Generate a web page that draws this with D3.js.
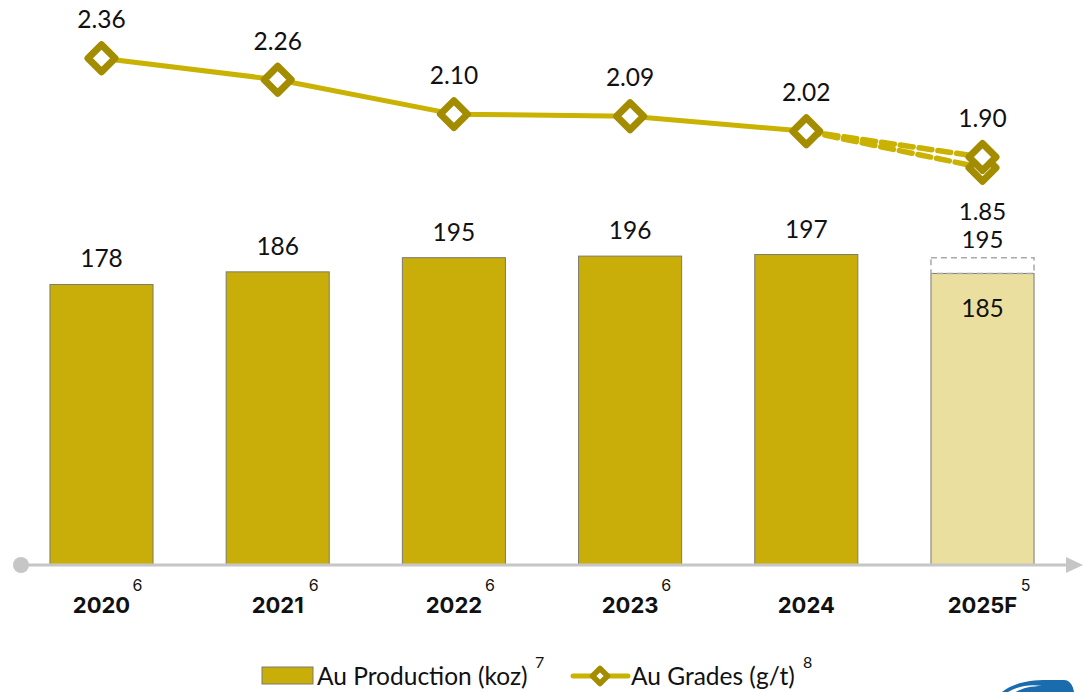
<!DOCTYPE html>
<html>
<head>
<meta charset="utf-8">
<script src="https://cdn.jsdelivr.net/npm/d3@7"></script>
<style>
  html, body { margin: 0; padding: 0; background: #ffffff; }
  svg { display: block; }
</style>
</head>
<body>
<svg id="chart" width="1089" height="692"></svg>
<script>
// Years on the category axis and their footnote markers
const years = ["2020", "2021", "2022", "2023", "2024", "2025F"];
const footnotes = ["6", "6", "6", "6", "", "5"];

// Gold production (koz); the last year is a forecast range
const production = [178, 186, 195, 196, 197, 185];
const forecastHigh = 195;

// Gold head grades (g/t); the forecast year has a high and a low case
const grades = [2.36, 2.26, 2.10, 2.09, 2.02, 1.90];
const forecastGradeLow = 1.85;

const GOLD = "#c9ae0a";
const GOLD_LIGHT = "#ebdfa0";
const LINE = "#c9b201";
const MARKER = "#a48c00";
const AXIS = "#c6c6c6";
const NUM_FONT = "Lato, 'Open Sans', sans-serif";
const NUM_SIZE = 24.5;
const CAT_FONT = "Inter, 'Open Sans', sans-serif";

const svg = d3.select("#chart");

const baseY = 565;
const x = d3.scaleBand().domain(years).range([13.4, 1070.6]).padding(0);
const barW = x.bandwidth() * 0.585;
const cx = d => x(d) + x.bandwidth() / 2;

const yBar = d3.scaleLinear().domain([0, 358.5]).range([baseY, 0]);
const yGrade = d3.scaleLinear().domain([0, 2.6316]).range([baseY, 0]);

// Bars
const barData = years.map((yr, i) => ({ yr, v: production[i], forecast: i === years.length - 1 }));
svg.append("g").selectAll("rect").data(barData).join("rect")
  .attr("x", d => cx(d.yr) - barW / 2)
  .attr("y", d => yBar(d.v))
  .attr("width", barW)
  .attr("height", d => baseY - yBar(d.v))
  .attr("fill", d => d.forecast ? GOLD_LIGHT : GOLD)
  .attr("stroke", "#7a7a72")
  .attr("stroke-width", 1);

// Dashed upper bound of the forecast range
const lastYr = years[years.length - 1];
svg.append("rect")
  .attr("x", cx(lastYr) - barW / 2)
  .attr("y", yBar(forecastHigh))
  .attr("width", barW)
  .attr("height", yBar(production[production.length - 1]) - yBar(forecastHigh))
  .attr("fill", "none")
  .attr("stroke", "#a9a9a9")
  .attr("stroke-width", 1.5)
  .attr("stroke-dasharray", "6,4");

const numText = (g, px, py, txt, size) => g.append("text")
  .attr("x", px).attr("y", py)
  .attr("text-anchor", "middle")
  .attr("font-family", NUM_FONT)
  .attr("font-size", size || NUM_SIZE)
  .attr("fill", "#111")
  .text(txt);

// Bar value labels
svg.append("g").selectAll("text").data(barData.filter(d => !d.forecast)).join("text")
  .attr("x", d => cx(d.yr))
  .attr("y", d => yBar(d.v) - 17)
  .attr("text-anchor", "middle")
  .attr("font-family", NUM_FONT)
  .attr("font-size", NUM_SIZE)
  .attr("fill", "#111")
  .text(d => d.v);

numText(svg, cx(lastYr), yBar(forecastHigh) - 10, forecastHigh, 24);
numText(svg, cx(lastYr), yBar(production[production.length - 1]) + 44, production[production.length - 1]);

// Category axis with round start cap and arrow head
const axis = svg.append("g");
axis.append("line")
  .attr("x1", 20).attr("x2", 1070).attr("y1", baseY).attr("y2", baseY)
  .attr("stroke", AXIS).attr("stroke-width", 3);
axis.append("circle").attr("cx", 21).attr("cy", baseY).attr("r", 8).attr("fill", AXIS);
axis.append("path")
  .attr("d", `M1066,${baseY - 8} L1083,${baseY} L1066,${baseY + 8} Z`)
  .attr("fill", AXIS);

// Category labels with footnote superscripts
const cat = svg.append("g").selectAll("g").data(years).join("g");
cat.append("text")
  .attr("x", d => cx(d))
  .attr("y", 613)
  .attr("text-anchor", "middle")
  .attr("font-family", CAT_FONT)
  .attr("font-weight", 700)
  .attr("font-size", 22)
  .attr("fill", "#111")
  .text(d => d);
cat.append("text")
  .attr("x", (d, i) => cx(d) + (d.length > 4 ? 43 : 36))
  .attr("y", 591)
  .attr("text-anchor", "middle")
  .attr("font-family", CAT_FONT)
  .attr("font-size", 16)
  .attr("fill", "#111")
  .text((d, i) => footnotes[i]);

// Grade line: solid for actuals, dashed to both forecast cases
const pts = years.map((yr, i) => [cx(yr), yGrade(grades[i])]);
const line = d3.line();
svg.append("path")
  .attr("d", line(pts.slice(0, 5)))
  .attr("fill", "none").attr("stroke", LINE).attr("stroke-width", 5)
  .attr("stroke-linejoin", "round");
const forecastEnds = [grades[5], forecastGradeLow];
forecastEnds.forEach(v => {
  svg.append("path")
    .attr("d", line([pts[4], [cx(lastYr), yGrade(v)]]))
    .attr("fill", "none").attr("stroke", LINE).attr("stroke-width", 5.5)
    .attr("stroke-dasharray", "13,6").attr("stroke-linecap", "round");
});

// Diamond markers
const diamond = (px, py, r) => `M${px},${py - r} L${px + r},${py} L${px},${py + r} L${px - r},${py} Z`;
const markerPts = pts.slice(0, 5).concat([[cx(lastYr), yGrade(forecastGradeLow)], pts[5]]);
svg.append("g").selectAll("path").data(markerPts).join("path")
  .attr("d", d => diamond(d[0], d[1], 13.5))
  .attr("fill", "#ffffff")
  .attr("stroke", MARKER)
  .attr("stroke-width", 7)
  .attr("stroke-linejoin", "round");

// Grade value labels
svg.append("g").selectAll("text").data(years).join("text")
  .attr("x", d => cx(d))
  .attr("y", (d, i) => yGrade(grades[i]) - 30)
  .attr("text-anchor", "middle")
  .attr("font-family", NUM_FONT)
  .attr("font-size", NUM_SIZE)
  .attr("fill", "#111")
  .text((d, i) => grades[i].toFixed(2));
numText(svg, cx(lastYr), yGrade(forecastGradeLow) + 52, forecastGradeLow.toFixed(2), 24);

// Legend
const lg = svg.append("g");
lg.append("rect").attr("x", 262).attr("y", 667).attr("width", 51).attr("height", 17)
  .attr("fill", GOLD).attr("stroke", "#7a7a72").attr("stroke-width", 1);
lg.append("text").attr("x", 317).attr("y", 685)
  .attr("font-family", NUM_FONT).attr("font-size", NUM_SIZE).attr("fill", "#111")
  .text("Au Production (koz)");
lg.append("text").attr("x", 535).attr("y", 668)
  .attr("font-family", NUM_FONT).attr("font-size", 16).attr("fill", "#111").text("7");
lg.append("line").attr("x1", 573).attr("x2", 628).attr("y1", 676).attr("y2", 676)
  .attr("stroke", LINE).attr("stroke-width", 5).attr("stroke-linecap", "round");
lg.append("path").attr("d", diamond(600, 676, 7.5))
  .attr("fill", "#ffffff").attr("stroke", MARKER).attr("stroke-width", 5.5).attr("stroke-linejoin", "round");
lg.append("text").attr("x", 631).attr("y", 685)
  .attr("font-family", NUM_FONT).attr("font-size", NUM_SIZE).attr("fill", "#111")
  .text("Au Grades (g/t)");
lg.append("text").attr("x", 803).attr("y", 668)
  .attr("font-family", NUM_FONT).attr("font-size", 16).attr("fill", "#111").text("8");

// Corner brand mark (partly cut off at the bottom edge)
svg.append("path")
  .attr("d", "M1002,692 C1012,684 1026,680 1048,680 L1064,680 C1070,680 1073,686 1074,692 Z")
  .attr("fill", "#1a6cad");
svg.append("path")
  .attr("d", "M1008,692 C1018,686 1030,684 1042,686 C1032,686 1022,688 1016,692 Z")
  .attr("fill", "#ffffff");
</script>
</body>
</html>
